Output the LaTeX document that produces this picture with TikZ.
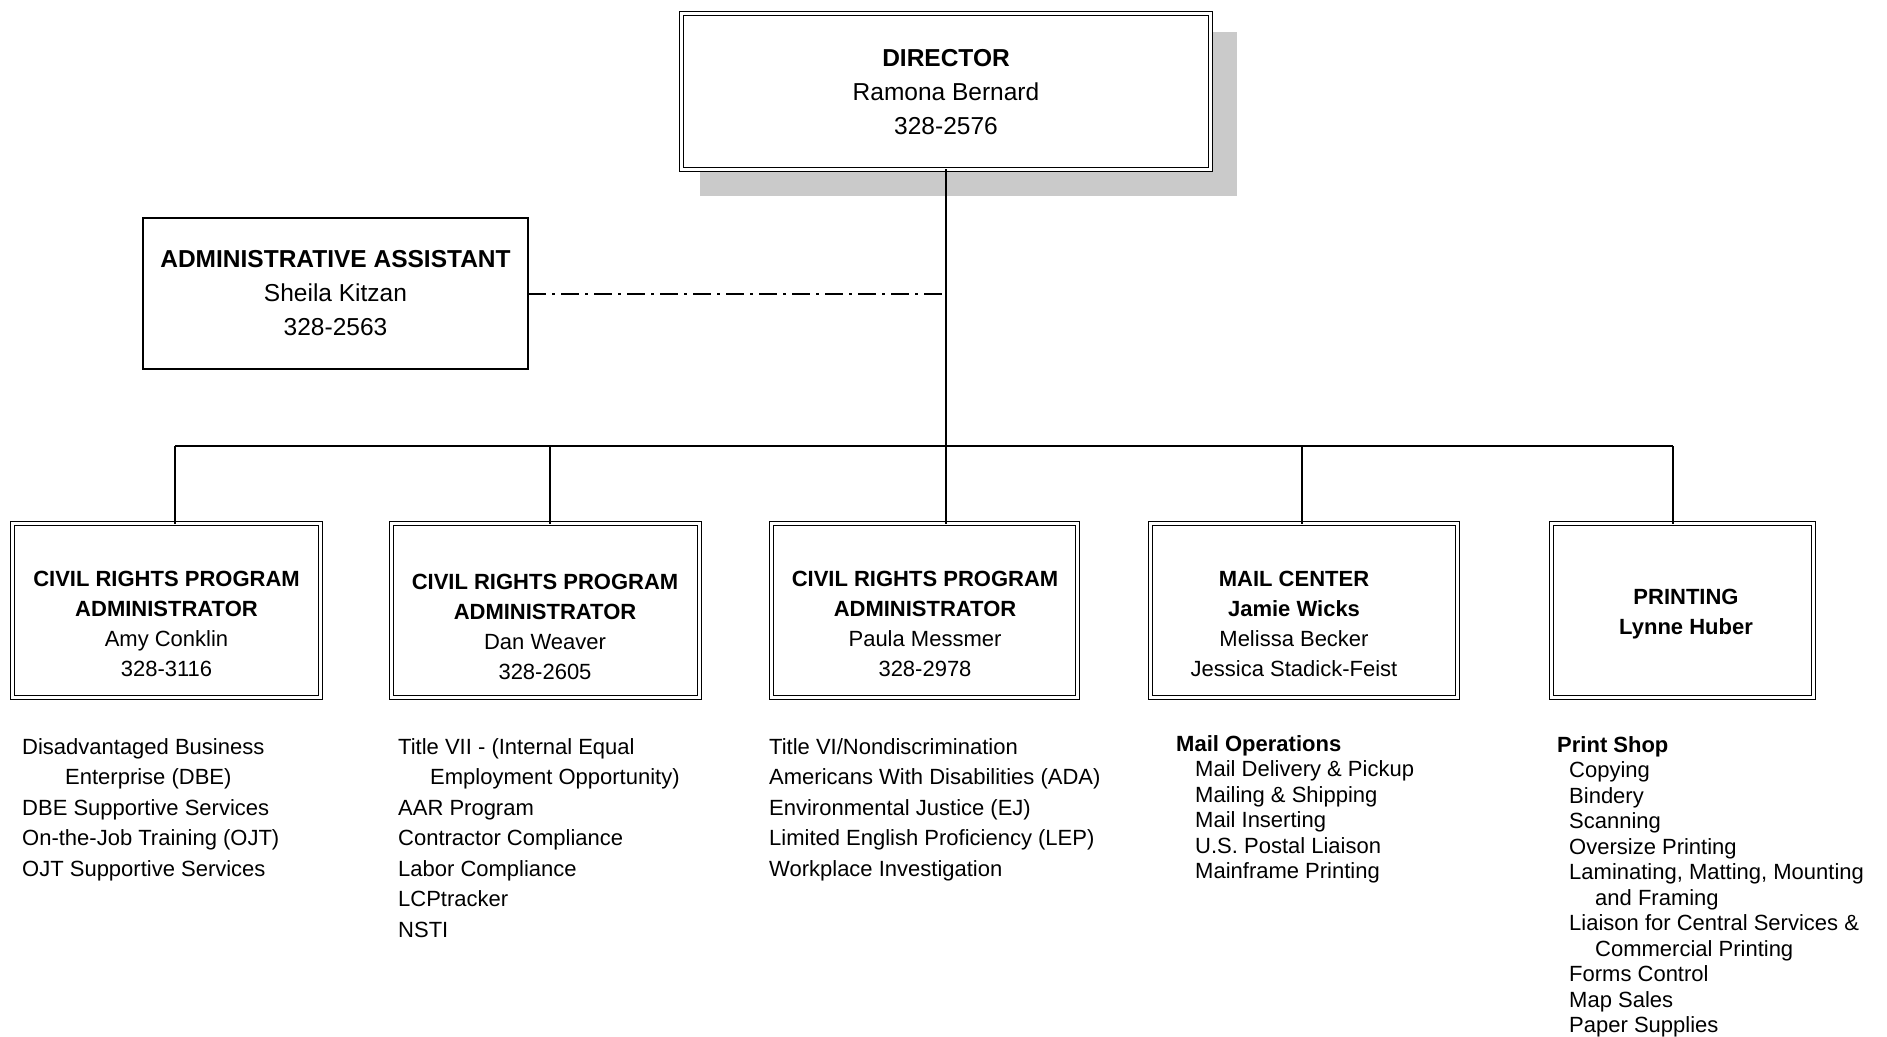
\documentclass[tikz,border=0pt]{standalone}
\usepackage{fontspec}
\setmainfont{Liberation Sans}
\definecolor{shadowgray}{HTML}{CACACA}
\begin{document}
\begin{tikzpicture}[x=1pt,y=-1pt,
  conn/.style={line width=1.3pt},
  dashdotline/.style={line width=1.3pt, dash pattern=on 18pt off 6pt on 3pt off 6pt},
  dbox/.style={draw, line width=1.1pt, double, double distance=3.2pt, inner sep=0pt, outer sep=0pt, minimum height=173.6pt},
  sbox/.style={draw, line width=1.3pt, inner sep=0pt, outer sep=0pt},
  bigtxt/.style={align=center, inner sep=0pt, font=\fontsize{24.5}{33.7}\selectfont},
  boxtxt/.style={align=center, inner sep=0pt, font=\fontsize{22}{30}\selectfont},
  listA/.style={align=left, anchor=north west, inner sep=0pt, font=\fontsize{22}{30.5}\selectfont},
  listB/.style={align=left, anchor=north west, inner sep=0pt, font=\fontsize{22}{25.5}\selectfont}
]
\useasboundingbox (0,0) rectangle (1887,1036);

% Director
\node[dbox, minimum width=528.6pt, minimum height=155.6pt] (dir) at (946,91.5) {};
\fill[shadowgray] ([shift={(18.3,18.3)}]dir.north west) coordinate (shnw) rectangle ([shift={(26.7,26.7)}]dir.south east) coordinate (shse);
\node[dbox, fill=white, minimum width=528.6pt, minimum height=155.6pt] (dirb) at (946,91.5) {};
\node[bigtxt] (dirt) at (946,92) {\textbf{DIRECTOR}\\Ramona Bernard\\328-2576};

% Administrative assistant
\node[sbox, minimum width=385pt, minimum height=151pt] (adm) at (335.5,293.5) {};
\node[bigtxt] (admt) at (335.5,293) {\textbf{ADMINISTRATIVE ASSISTANT}\\Sheila Kitzan\\328-2563};

% Lower boxes
\node[dbox, minimum width=307.6pt] (b1) at (166.5,610.5) {};
\node[dbox, minimum width=307.6pt] (b2) at (545.5,610.5) {};
\node[dbox, minimum width=305.6pt] (b3) at (924.5,610.5) {};
\node[dbox, minimum width=306.6pt] (b4) at (1304,610.5) {};
\node[dbox, minimum width=261.6pt] (b5) at (1682.5,610.5) {};

\node[boxtxt] (t1) at (166.5,624) {\textbf{CIVIL RIGHTS PROGRAM}\\\textbf{ADMINISTRATOR}\\Amy Conklin\\328-3116};
\node[boxtxt] (t2) at (545,626.5) {\textbf{CIVIL RIGHTS PROGRAM}\\\textbf{ADMINISTRATOR}\\Dan Weaver\\328-2605};
\node[boxtxt] (t3) at (925,624) {\textbf{CIVIL RIGHTS PROGRAM}\\\textbf{ADMINISTRATOR}\\Paula Messmer\\328-2978};
\node[boxtxt] (t4) at (1294,624) {\textbf{MAIL CENTER}\\\textbf{Jamie Wicks}\\Melissa Becker\\Jessica Stadick-Feist};
\node[boxtxt] (t5) at (1686,614) {\textbf{PRINTING}\\\textbf{Lynne Huber}};

% Connectors
\coordinate (bus1) at (175,446);
\coordinate (bus2) at (550,446);
\coordinate (bus3) at (946,446);
\coordinate (bus4) at (1302,446);
\coordinate (bus5) at (1673,446);
\coordinate (admj) at (946,294);
\draw[conn] (dirb.south) -- (dirb.south |- b3.north);
\draw[conn] (bus1) -- (bus5);
\draw[conn] (bus1) -- (bus1 |- b1.north);
\draw[conn] (bus2) -- (bus2 |- b2.north);
\draw[conn] (bus4) -- (bus4 |- b4.north);
\draw[conn] (bus5) -- (bus5 |- b5.north);
\draw[dashdotline] (adm.east |- admj) -- (admj);

% Lists
\node[listA] (l1) at (22,738) {Disadvantaged Business\\\hspace*{43pt}Enterprise (DBE)\\DBE Supportive Services\\On-the-Job Training (OJT)\\OJT Supportive Services};
\node[listA] (l2) at (398,738) {Title VII - (Internal Equal\\\hspace*{32pt}Employment Opportunity)\\AAR Program\\Contractor Compliance\\Labor Compliance\\LCPtracker\\NSTI};
\node[listA] (l3) at (769,738) {Title VI/Nondiscrimination\\Americans With Disabilities (ADA)\\Environmental Justice (EJ)\\Limited English Proficiency (LEP)\\Workplace Investigation};
\node[listB] (l4) at (1176,735) {\textbf{Mail Operations}\\\hspace*{19pt}Mail Delivery \& Pickup\\\hspace*{19pt}Mailing \& Shipping\\\hspace*{19pt}Mail Inserting\\\hspace*{19pt}U.S. Postal Liaison\\\hspace*{19pt}Mainframe Printing};
\node[listB] (l5) at (1557,736) {\textbf{Print Shop}\\\hspace*{12pt}Copying\\\hspace*{12pt}Bindery\\\hspace*{12pt}Scanning\\\hspace*{12pt}Oversize Printing\\\hspace*{12pt}Laminating, Matting, Mounting\\\hspace*{38pt}and Framing\\\hspace*{12pt}Liaison for Central Services \&\\\hspace*{38pt}Commercial Printing\\\hspace*{12pt}Forms Control\\\hspace*{12pt}Map Sales\\\hspace*{12pt}Paper Supplies};
\end{tikzpicture}
\end{document}
